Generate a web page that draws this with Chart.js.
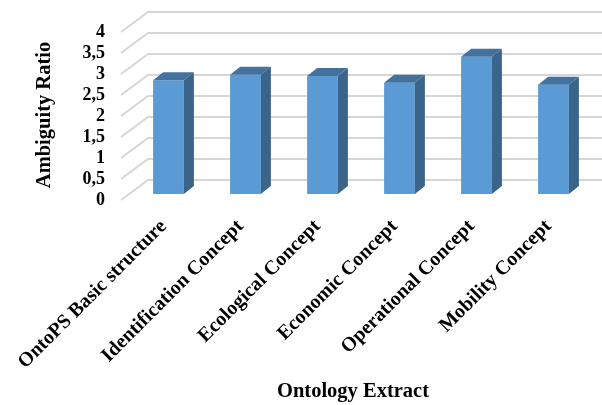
<!DOCTYPE html>
<html>
<head>
<meta charset="utf-8">
<script src="https://cdn.jsdelivr.net/npm/chart.js@4/dist/chart.umd.min.js"></script>
<style>
  html, body { margin: 0; padding: 0; background: #ffffff; }
  #wrap { width: 602px; height: 405px; position: relative; }
</style>
</head>
<body>
<div id="wrap"><canvas id="c" width="602" height="405"></canvas></div>
<script>
const categories = ['OntoPS Basic structure', 'Identification Concept', 'Ecological Concept', 'Economic Concept', 'Operational Concept', 'Mobility Concept'];
const ambiguityRatio = [2.71, 2.84, 2.81, 2.65, 3.27, 2.6];
const yTickLabels = ['0', '0,5', '1', '1,5', '2', '2,5', '3', '3,5', '4'];
const yAxisTitle = 'Ambiguity Ratio';
const xAxisTitle = 'Ontology Extract';

const FRONT = '#5B9BD5';
const TOP = '#43729F';
const SIDE = '#3A6489';
const GRID = '#d6d6d6';
const FONT = 'Liberation Serif';

// 3D box geometry relative to the bar plane
const BACK_DX = 18, BACK_DY = -14;
const FRONT_DX = -9, FRONT_DY = 6;
const BAR_DX = 10, BAR_DY = -8;

const wallsPlugin = {
  id: 'walls3d',
  beforeDatasetsDraw(chart) {
    const { ctx, chartArea, scales } = chart;
    const y = scales.y;
    ctx.save();
    ctx.strokeStyle = GRID;
    ctx.lineWidth = 2;
    y.ticks.forEach(t => {
      const py = y.getPixelForValue(t.value);
      ctx.beginPath();
      ctx.moveTo(chartArea.left + FRONT_DX, py + FRONT_DY);
      ctx.lineTo(chartArea.left + BACK_DX, py + BACK_DY);
      ctx.lineTo(chart.width, py + BACK_DY);
      ctx.stroke();
    });
    ctx.restore();
  },
  afterDatasetsDraw(chart) {
    const { ctx } = chart;
    const meta = chart.getDatasetMeta(0);
    ctx.save();
    meta.data.forEach(bar => {
      const p = bar.getProps(['x', 'y', 'base', 'width'], true);
      const x1 = p.x - p.width / 2, x2 = p.x + p.width / 2;
      const yt = p.y, yb = p.base;
      ctx.fillStyle = TOP;
      ctx.beginPath();
      ctx.moveTo(x1, yt);
      ctx.lineTo(x2, yt);
      ctx.lineTo(x2 + BAR_DX, yt + BAR_DY);
      ctx.lineTo(x1 + BAR_DX, yt + BAR_DY);
      ctx.closePath();
      ctx.fill();
      ctx.fillStyle = SIDE;
      ctx.beginPath();
      ctx.moveTo(x2, yt);
      ctx.lineTo(x2 + BAR_DX, yt + BAR_DY);
      ctx.lineTo(x2 + BAR_DX, yb + BAR_DY);
      ctx.lineTo(x2, yb);
      ctx.closePath();
      ctx.fill();
    });
    ctx.restore();
  },
  afterDraw(chart) {
    const { ctx } = chart;
    ctx.save();
    ctx.fillStyle = '#000';
    ctx.font = 'bold 20.5px "' + FONT + '"';
    ctx.textAlign = 'center';
    ctx.textBaseline = 'middle';
    ctx.fillText(xAxisTitle, 353, 392);
    ctx.translate(45, 115);
    ctx.rotate(-Math.PI / 2);
    ctx.fillText(yAxisTitle, 0, 0);
    ctx.restore();
  }
};

new Chart(document.getElementById('c'), {
  type: 'bar',
  data: {
    labels: categories,
    datasets: [{
      data: ambiguityRatio,
      backgroundColor: FRONT,
      borderWidth: 0,
      categoryPercentage: 1,
      barPercentage: 0.4
    }]
  },
  options: {
    responsive: false,
    animation: false,
    events: [],
    layout: { padding: { left: 0, right: 10, top: 26, bottom: 0 } },
    plugins: { legend: { display: false }, tooltip: { enabled: false } },
    scales: {
      y: {
        min: 0, max: 4,
        border: { display: false },
        grid: { display: false, drawTicks: false },
        ticks: {
          stepSize: 0.5,
          autoSkip: false,
          padding: 25,
          labelOffset: 6,
          color: '#000',
          font: { family: FONT, size: 18, weight: 'bold' },
          callback: (v, i) => yTickLabels[i]
        },
        afterFit(s) { s.width = 130; s.paddingTop = 0; s.paddingBottom = 0; }
      },
      x: {
        border: { display: false },
        grid: { display: false, drawTicks: false },
        ticks: {
          minRotation: 45, maxRotation: 45,
          autoSkip: false,
          padding: 21,
          labelOffset: -5,
          color: '#000',
          font: { family: FONT, size: 20, weight: 'bold' }
        },
        afterFit(s) { s.height = 211; s.paddingLeft = 0; s.paddingRight = 0; }
      }
    }
  },
  plugins: [wallsPlugin]
});
</script>
</body>
</html>
